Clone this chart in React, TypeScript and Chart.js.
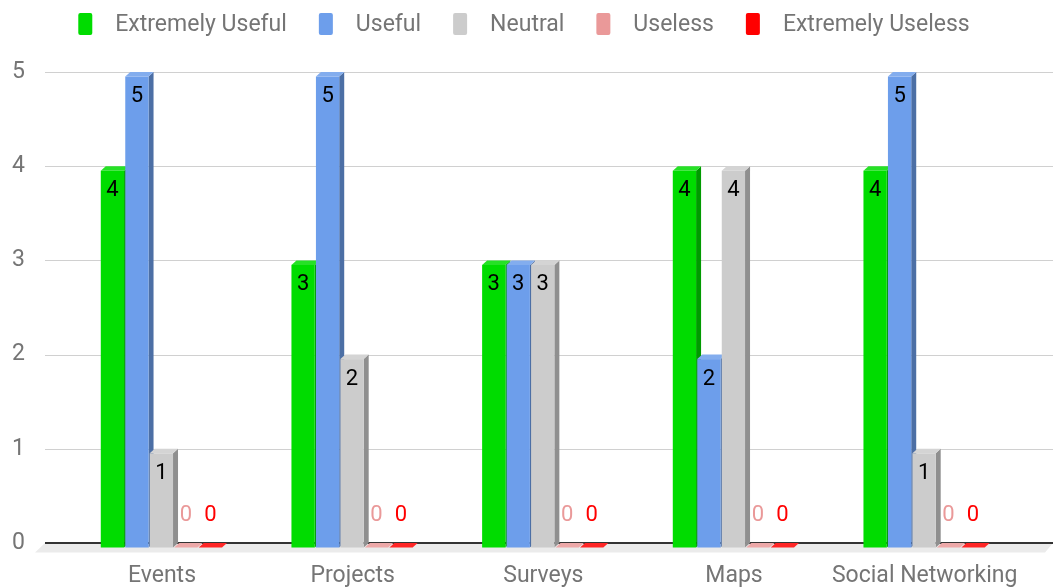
import React, { useEffect, useRef } from 'react';
import { Chart, registerables } from 'chart.js';

Chart.register(...registerables);

const categories = ['Events', 'Projects', 'Surveys', 'Maps', 'Social Networking'];
const seriesNames = ['Extremely Useful', 'Useful', 'Neutral', 'Useless', 'Extremely Useless'];
const extremelyUseful = [4, 3, 3, 4, 4];
const useful = [5, 5, 3, 2, 5];
const neutral = [1, 2, 3, 4, 1];
const useless = [0, 0, 0, 0, 0];
const extremelyUseless = [0, 0, 0, 0, 0];
const seriesValues = [extremelyUseful, useful, neutral, useless, extremelyUseless];
const seriesColors = ['#00dc00', '#6d9eeb', '#cccccc', '#ea9999', '#ff0000'];
const yTickValues = [0, 1, 2, 3, 4, 5];

const FONT = 'Roboto';
const TEXT_GRAY = '#757575';
const DX = 5;
const DY = 4.5;
const W = 1053;
const H = 587;

function shade(hex: string, f: number): string {
  const n = parseInt(hex.slice(1), 16);
  let r = (n >> 16) & 255, g = (n >> 8) & 255, b = n & 255;
  if (f < 1) {
    r = Math.round(r * f); g = Math.round(g * f); b = Math.round(b * f);
  } else {
    const t = f - 1;
    r = Math.round(r + (255 - r) * t); g = Math.round(g + (255 - g) * t); b = Math.round(b + (255 - b) * t);
  }
  return `rgb(${r},${g},${b})`;
}

const threeDPlugin = {
  id: 'threeD',
  beforeDatasetsDraw(chart: any) {
    const ctx = chart.ctx;
    const y = chart.scales.y;
    const left = 45;
    const right = chart.width;
    ctx.save();
    ctx.strokeStyle = '#d0d0d0';
    ctx.lineWidth = 1;
    yTickValues.forEach((v) => {
      if (v === 0) return;
      const py = Math.round(y.getPixelForValue(v)) + 0.5;
      ctx.beginPath();
      ctx.moveTo(left, py);
      ctx.lineTo(right, py);
      ctx.stroke();
    });
    const y0 = y.getPixelForValue(0);
    ctx.fillStyle = '#ebebeb';
    ctx.beginPath();
    ctx.moveTo(left, y0);
    ctx.lineTo(right, y0);
    ctx.lineTo(right - 8, y0 + 9.5);
    ctx.lineTo(left - 10, y0 + 9.5);
    ctx.closePath();
    ctx.fill();
    ctx.strokeStyle = '#333333';
    ctx.lineWidth = 2;
    ctx.beginPath();
    ctx.moveTo(left, y0);
    ctx.lineTo(right, y0);
    ctx.stroke();
    ctx.restore();
  },
  beforeDatasetDraw() {
    return false;
  },
  afterDatasetsDraw(chart: any) {
    const ctx = chart.ctx;
    ctx.save();
    const nDs = chart.data.datasets.length;
    const labels: any[] = [];
    categories.forEach((_, i) => {
      for (let d = 0; d < nDs; d++) {
        const meta = chart.getDatasetMeta(d);
        const el = meta.data[i];
        if (!el) continue;
        const color = seriesColors[d];
        const w = el.width - 1.2;
        const x = el.x - el.width / 2;
        const yv = el.y;
        const y0 = el.base;
        const fTop = yv + DY;
        const fBot = y0 + DY;
        if (fBot - fTop > 0.5) {
          ctx.fillStyle = shade(color, 0.7);
          ctx.beginPath();
          ctx.moveTo(x + w, fTop);
          ctx.lineTo(x + w + DX, yv);
          ctx.lineTo(x + w + DX, y0);
          ctx.lineTo(x + w, fBot);
          ctx.closePath();
          ctx.fill();
          ctx.fillStyle = color;
          ctx.fillRect(x, fTop, w, fBot - fTop);
        }
        ctx.fillStyle = shade(color, 1.15);
        ctx.beginPath();
        ctx.moveTo(x, fTop);
        ctx.lineTo(x + w, fTop);
        ctx.lineTo(x + w + DX, yv);
        ctx.lineTo(x + DX, yv);
        ctx.closePath();
        ctx.fill();
        const v = seriesValues[d][i];
        labels.push({ x: x + w / 2, y: v > 0 ? fTop + 20 : y0 - 28, text: String(v), color: v > 0 ? '#000000' : color });
      }
    });
    ctx.font = `22px ${FONT}`;
    ctx.textAlign = 'center';
    ctx.textBaseline = 'middle';
    labels.forEach((l) => {
      ctx.fillStyle = l.color;
      ctx.fillText(l.text, l.x, l.y);
    });
    ctx.restore();
  },
  afterDraw(chart: any) {
    const ctx = chart.ctx;
    ctx.save();
    ctx.font = `23px ${FONT}`;
    ctx.textBaseline = 'middle';
    ctx.textAlign = 'left';
    const boxW = 14;
    const boxH = 22;
    const gap = 23;
    const spacing = 32;
    const widths = seriesNames.map((s) => ctx.measureText(s).width);
    const total = widths.reduce((a, b) => a + b + boxW + gap, 0) + spacing * (seriesNames.length - 1);
    let x = 524 - total / 2;
    const cy = 24;
    seriesNames.forEach((s, i) => {
      ctx.fillStyle = seriesColors[i];
      ctx.beginPath();
      (ctx as any).roundRect ? (ctx as any).roundRect(x, cy - boxH / 2, boxW, boxH, 2) : ctx.rect(x, cy - boxH / 2, boxW, boxH);
      ctx.fill();
      x += boxW + gap;
      ctx.fillStyle = TEXT_GRAY;
      ctx.fillText(s, x, cy + 1);
      x += widths[i] + spacing;
    });
    ctx.restore();
  },
};

export default function App() {
  const ref = useRef<HTMLCanvasElement | null>(null);
  useEffect(() => {
    if (!ref.current) return;
    const chart = new Chart(ref.current, {
      type: 'bar',
      data: {
        labels: categories,
        datasets: seriesNames.map((name, i) => ({
          label: name,
          data: seriesValues[i],
          backgroundColor: seriesColors[i],
          barPercentage: 1,
          categoryPercentage: 0.642,
        })),
      },
      options: {
        animation: false,
        responsive: false,
        maintainAspectRatio: false,
        devicePixelRatio: 1,
        layout: { padding: { top: 72, right: 33, left: 12, bottom: 0 } },
        plugins: {
          legend: { display: false },
          tooltip: { enabled: false },
          title: { display: false },
        },
        scales: {
          x: {
            grid: { display: false, drawTicks: false },
            border: { display: false },
            ticks: { color: TEXT_GRAY, font: { family: FONT, size: 23 }, padding: 19, maxRotation: 0, autoSkip: false },
            afterFit(scale: any) { scale.height = 44; },
          },
          y: {
            min: 0,
            max: 5,
            grid: { display: false, drawTicks: false },
            border: { display: false },
            ticks: { stepSize: 1, color: TEXT_GRAY, font: { family: FONT, size: 23 }, padding: 0, crossAlign: 'far' },
            afterFit(scale: any) { scale.width = 54.65; },
          },
        },
      },
      plugins: [threeDPlugin],
    });
    return () => chart.destroy();
  }, []);
  return (
    <div style={{ position: 'fixed', left: 0, top: 0, width: W, height: H, background: '#ffffff' }}>
      <canvas ref={ref} width={W} height={H} style={{ width: W, height: H, display: 'block' }} />
    </div>
  );
}
